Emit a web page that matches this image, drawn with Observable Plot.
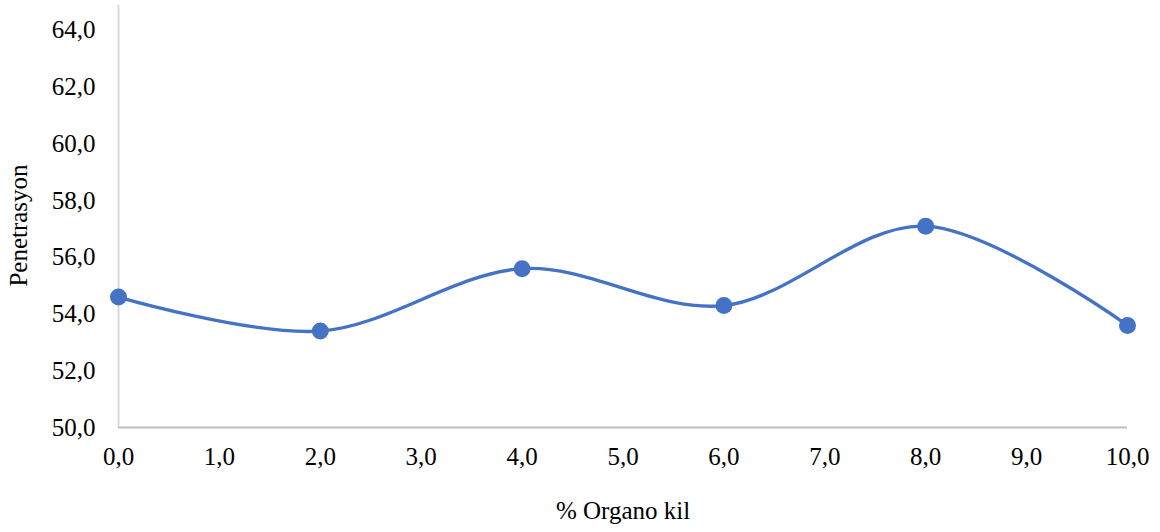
<!DOCTYPE html>
<html>
<head>
<meta charset="utf-8">
<script src="https://cdn.jsdelivr.net/npm/d3@7"></script>
<script src="https://cdn.jsdelivr.net/npm/@observablehq/plot@0.6"></script>
<style>
  html, body { margin: 0; padding: 0; background: #fff; }
  #chart svg { display: block; }
  #chart svg, #chart svg text { font-family: "Liberation Serif", "Times New Roman", serif !important; }
</style>
</head>
<body>
<div id="chart"></div>
<script>
const organoKil = [0, 2, 4, 6, 8, 10];
const penetrasyon = [54.6, 53.4, 55.6, 54.3, 57.1, 53.6];
const xTicks = [0, 1, 2, 3, 4, 5, 6, 7, 8, 9, 10];
const yTicks = [50, 52, 54, 56, 58, 60, 62, 64];
const xLabel = "% Organo kil";
const yLabel = "Penetrasyon";

const data = organoKil.map((x, i) => ({x, y: penetrasyon[i]}));
const fmt = d => d.toFixed(1).replace(".", ",");
const blue = "#4472C4";

const chart = Plot.plot({
  width: 1160,
  height: 532,
  marginLeft: 118,
  marginRight: 33,
  marginTop: 5,
  marginBottom: 105,
  style: {fontSize: "25px", color: "#000", background: "#fff"},
  x: {domain: [0, 10]},
  y: {domain: [50, 64.88]},
  marks: [
    Plot.ruleX([0], {stroke: "#d9d9d9", strokeWidth: 2}),
    Plot.ruleY([50], {stroke: "#bfbfbf", strokeWidth: 2}),
    Plot.axisX(xTicks, {tickSize: 0, tickPadding: 20, tickFormat: fmt, label: null, fontSize: 25, fill: "#000"}),
    Plot.axisY(yTicks, {tickSize: 0, tickPadding: 23, tickFormat: fmt, label: null, fontSize: 25, fill: "#000"}),
    Plot.line(data, {x: "x", y: "y", curve: "cardinal", stroke: blue, strokeWidth: 3.3}),
    Plot.dot(data, {x: "x", y: "y", r: 8.5, fill: blue, stroke: null}),
    Plot.text([xLabel], {frameAnchor: "bottom", dy: 83, fontSize: 25, fill: "#000", lineAnchor: "middle"}),
    Plot.text([yLabel], {frameAnchor: "left", dx: -100, dy: 9, rotate: -90, fontSize: 25, fill: "#000", lineAnchor: "middle", textAnchor: "middle"})
  ]
});
document.getElementById("chart").appendChild(chart);
</script>
</body>
</html>
